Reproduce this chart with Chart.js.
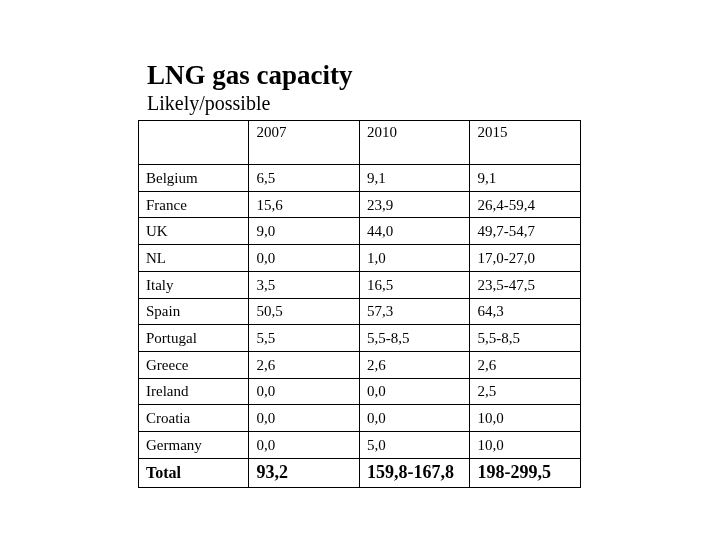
<!DOCTYPE html>
<html>
<head>
<meta charset="utf-8">
<script src="https://cdn.jsdelivr.net/npm/chart.js@4"></script>
<style>
  body { margin: 0; background: #fff; }
  #wrap { width: 720px; height: 540px; }
</style>
</head>
<body>
<div id="wrap"><canvas id="tableChart" width="720" height="540"></canvas></div>
<script>
// table data
const years = ['2007', '2010', '2015'];
const countries = ['Belgium', 'France', 'UK', 'NL', 'Italy', 'Spain', 'Portugal', 'Greece', 'Ireland', 'Croatia', 'Germany', 'Total'];
const cap2007 = ['6,5', '15,6', '9,0', '0,0', '3,5', '50,5', '5,5', '2,6', '0,0', '0,0', '0,0', '93,2'];
const cap2010 = ['9,1', '23,9', '44,0', '1,0', '16,5', '57,3', '5,5-8,5', '2,6', '0,0', '0,0', '5,0', '159,8-167,8'];
const cap2015 = ['9,1', '26,4-59,4', '49,7-54,7', '17,0-27,0', '23,5-47,5', '64,3', '5,5-8,5', '2,6', '2,5', '10,0', '10,0', '198-299,5'];

// row boundaries (in row units): header is taller, total row a bit taller
const headerH = 1.67;
const rowEdges = [0, headerH];
countries.forEach((c, i) => rowEdges.push(headerH + i + 1 + (i === countries.length - 1 ? 0.08 : 0)));
const colEdges = [0, 1, 2, 3, 4];

const serif = '"Liberation Serif", "DejaVu Serif", serif';

const tablePlugin = {
  id: 'tableText',
  afterDraw(chart) {
    const ctx = chart.ctx;
    const x = chart.scales.x, y = chart.scales.y;
    ctx.save();
    ctx.fillStyle = '#000';
    ctx.textBaseline = 'alphabetic';
    ctx.font = 'bold 27px ' + serif;
    ctx.fillText('LNG gas capacity', 147, 84);
    ctx.font = '20px ' + serif;
    ctx.fillText('Likely/possible', 147, 110);

    ctx.font = '15px ' + serif;
    years.forEach((yr, j) => {
      ctx.fillText(yr, x.getPixelForValue(j + 1) + 8, y.getPixelForValue(0) + 17);
    });
    const cols = [countries, cap2007, cap2010, cap2015];
    countries.forEach((c, i) => {
      const last = i === countries.length - 1;
      const mid = (y.getPixelForValue(rowEdges[i + 1]) + y.getPixelForValue(rowEdges[i + 2])) / 2;
      cols.forEach((col, j) => {
        ctx.font = last ? (j === 0 ? 'bold 16px ' : 'bold 18px ') + serif : '15px ' + serif;
        ctx.fillText(col[i], x.getPixelForValue(j) + 8, mid + 5);
      });
    });
    ctx.restore();
  }
};

new Chart(document.getElementById('tableChart'), {
  type: 'scatter',
  data: { datasets: [{ data: [], pointRadius: 0 }] },
  plugins: [tablePlugin],
  options: {
    responsive: false,
    animation: false,
    layout: { padding: { left: 138, right: 140, top: 120, bottom: 53 } },
    plugins: { legend: { display: false }, tooltip: { enabled: false } },
    scales: {
      x: {
        type: 'linear', min: 0, max: 4,
        afterBuildTicks: s => { s.ticks = colEdges.map(v => ({ value: v })); },
        ticks: { display: false },
        grid: { color: '#000', lineWidth: 1, drawTicks: false },
        border: { color: '#000' }
      },
      y: {
        type: 'linear', reverse: true, min: 0, max: rowEdges[rowEdges.length - 1],
        afterBuildTicks: s => { s.ticks = rowEdges.map(v => ({ value: v })); },
        ticks: { display: false },
        grid: { color: '#000', lineWidth: 1, drawTicks: false },
        border: { color: '#000' }
      }
    }
  }
});
</script>
</body>
</html>
